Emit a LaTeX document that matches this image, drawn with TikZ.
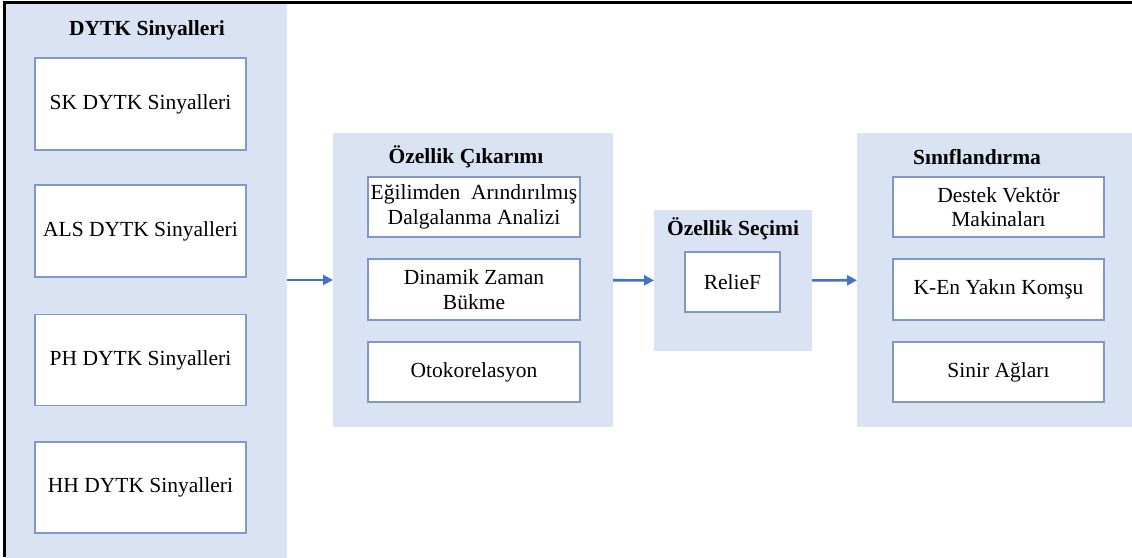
\documentclass[tikz,border=0pt]{standalone}
\usepackage{fontspec}
\setmainfont{Liberation Serif}
\usetikzlibrary{arrows.meta}
\definecolor{panelfill}{HTML}{DAE3F3}
\definecolor{boxline}{RGB}{128,152,200}
\definecolor{arrowblue}{HTML}{4472C4}
\tikzset{
  panel/.style={fill=panelfill, draw=none, inner sep=0pt, outer sep=0pt},
  title/.style={font=\fontsize{21.5}{25}\selectfont\bfseries, inner sep=0pt},
  item/.style={draw=boxline, line width=1.1pt, fill=white, inner sep=0pt, outer sep=0pt,
    align=center, font=\fontsize{21.5}{24.5}\selectfont},
  flow/.style={draw=arrowblue, line width=2.6pt, -{Triangle[length=10pt,width=10pt]}},
}
\begin{document}
\begin{tikzpicture}[x=1pt,y=-1pt]
\useasboundingbox (0,0) rectangle (1132,557);

% stage panels
\node[panel, minimum width=282, minimum height=555] (p1) at (146,280) {};
\node[panel, minimum width=280, minimum height=294] (p2) at (473,280) {};
\node[panel, minimum width=158, minimum height=141] (p3) at (733,280.5) {};
\node[panel, minimum width=275, minimum height=294] (p4) at (994.5,280) {};

% frame lines along the top and left edges
\draw[black, line width=2.4pt] (1132,2.5) -- (4.5,2.5) -- (4.5,557);

% panel titles
\node[title] (t1) at (147,30) {DYTK Sinyalleri};
\node[title] (t2) at (466,157) {Özellik Çıkarımı};
\node[title] (t3) at (733,229) {Özellik Seçimi};
\node[title] (t4) at (977,157) {Sınıflandırma};

% signal boxes
\node[item, minimum width=211, minimum height=92] (s1) at (140.5,104) {SK DYTK Sinyalleri};
\node[item, minimum width=211, minimum height=92] (s2) at (140.5,231) {ALS DYTK Sinyalleri};
\node[item, minimum width=211, minimum height=91] (s3) at (140.5,360) {PH DYTK Sinyalleri};
\node[item, minimum width=211, minimum height=91] (s4) at (140.5,487.5) {HH DYTK Sinyalleri};

% feature extraction boxes
\node[item, minimum width=212, minimum height=60] (f1) at (474,207) {Eğilimden\hspace{0.5em}Arındırılmış\\Dalgalanma Analizi};
\node[item, minimum width=212, minimum height=61] (f2) at (474,289.5) {Dinamik Zaman\\Bükme};
\node[item, minimum width=212, minimum height=60] (f3) at (474,372) {Otokorelasyon};

% feature selection box
\node[item, minimum width=95, minimum height=60] (r1) at (732.5,282) {RelieF};

% classifier boxes
\node[item, minimum width=211, minimum height=60] (c1) at (998.5,207) {Destek Vektör\\Makinaları};
\node[item, minimum width=211, minimum height=61] (c2) at (998.5,289.5) {K-En Yakın Komşu};
\node[item, minimum width=211, minimum height=60] (c3) at (998.5,372) {Sinir Ağları};

% flow arrows between stages
\draw[flow] (p1) -- (p2);
\draw[flow] (p2) -- (p3);
\draw[flow] (p3) -- (p4);
\end{tikzpicture}
\end{document}
